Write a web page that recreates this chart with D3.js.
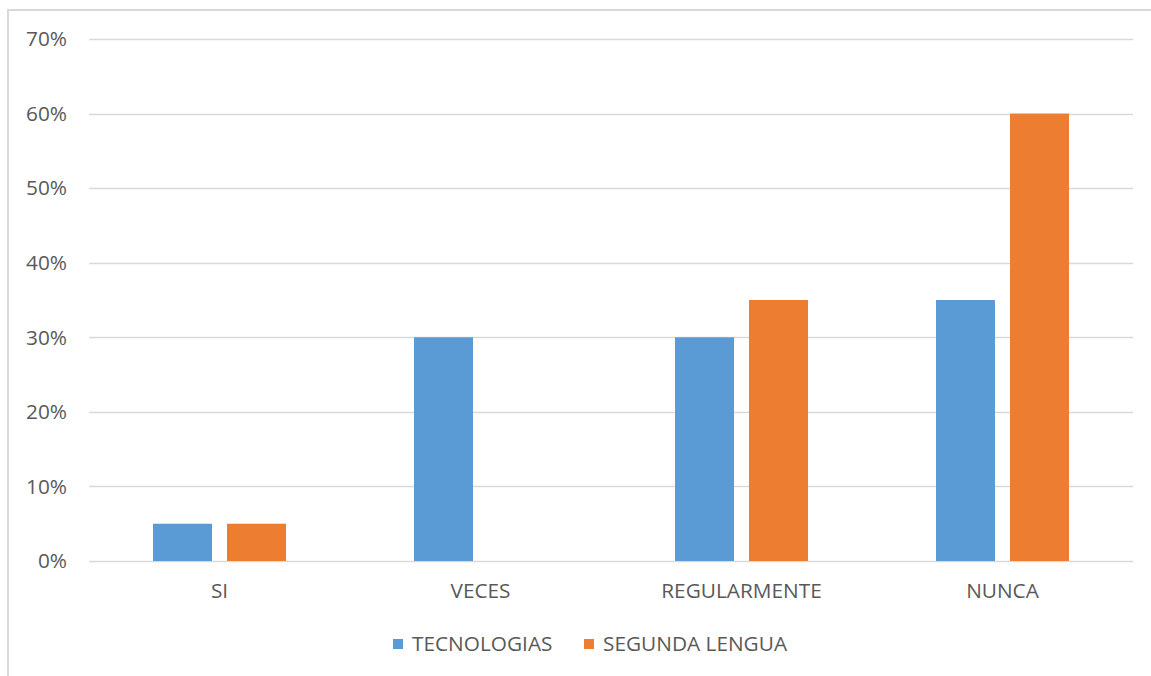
<!DOCTYPE html>
<html>
<head>
<meta charset="utf-8">
<script src="https://cdn.jsdelivr.net/npm/d3@7"></script>
<style>
  body { margin: 0; background: #fff; }
  svg { display: block; }
</style>
</head>
<body>
<div class="svg-container"></div>
<script>
const categories = ["SI", "VECES", "REGULARMENTE", "NUNCA"];
const seriesNames = ["TECNOLOGIAS", "SEGUNDA LENGUA"];
const tecnologias = [0.05, 0.30, 0.30, 0.35];
const segundaLengua = [0.05, 0, 0.35, 0.60];
const yTicks = [0, 0.1, 0.2, 0.3, 0.4, 0.5, 0.6, 0.7];
const colors = ["#5B9BD5", "#ED7D31"];

const width = 1151, height = 676;
const margin = { top: 39, left: 89, right: 18, bottom: 115 };
const font = "'Open Sans', 'Liberation Sans', sans-serif";
const fontSize = 20.8;

const svg = d3.select("div.svg-container")
  .append("svg")
  .attr("width", width)
  .attr("height", height)
  .style("background-color", "#fff");

// chart border
svg.append("rect")
  .attr("x", 8).attr("y", 10)
  .attr("width", width).attr("height", height)
  .attr("fill", "none")
  .attr("stroke", "#d9d9d9")
  .attr("stroke-width", 2);

const x = d3.scaleBand(categories, [margin.left, width - margin.right]);
const y = d3.scaleLinear([0, 0.7], [height - margin.bottom, margin.top]);
const groupW = 133;
const x1 = d3.scaleBand(seriesNames, [0, groupW]).paddingInner(15 / 133 * 2 / (1 + 15 / 133));

const series = seriesNames.map((name, i) => ({
  name,
  color: colors[i],
  values: i === 0 ? tecnologias : segundaLengua
}));

// gridlines
svg.append("g")
  .selectAll("line")
  .data(yTicks)
  .join("line")
  .attr("x1", margin.left)
  .attr("x2", width - margin.right)
  .attr("y1", d => Math.round(y(d)) + 0.5)
  .attr("y2", d => Math.round(y(d)) + 0.5)
  .attr("stroke", "#d9d9d9")
  .attr("stroke-width", 1.3);

// y labels
svg.append("g")
  .attr("font-family", font)
  .attr("font-size", fontSize)
  .attr("fill", "#595959")
  .attr("text-anchor", "end")
  .selectAll("text")
  .data(yTicks)
  .join("text")
  .attr("x", 67)
  .attr("y", d => y(d))
  .attr("dy", "0.35em")
  .text(d3.format(".0%"));

// bars
svg.append("g")
  .selectAll("g")
  .data(series)
  .join("g")
  .attr("fill", d => d.color)
  .selectAll("rect")
  .data(d => d.values.map((v, j) => ({ v, cat: categories[j], name: d.name })))
  .join("rect")
  .attr("x", d => x(d.cat) + (x.bandwidth() - groupW) / 2 + x1(d.name))
  .attr("width", x1.bandwidth())
  .attr("y", d => y(d.v))
  .attr("height", d => y(0) - y(d.v));

// x labels
svg.append("g")
  .attr("font-family", font)
  .attr("font-size", fontSize)
  .attr("fill", "#595959")
  .attr("text-anchor", "middle")
  .selectAll("text")
  .data(categories)
  .join("text")
  .attr("x", d => x(d) + x.bandwidth() / 2)
  .attr("y", 591)
  .attr("dy", "0.35em")
  .text(d => d);

// legend
const legendX = [393, 584];
const legend = svg.append("g")
  .attr("font-family", font)
  .attr("font-size", fontSize)
  .attr("fill", "#595959")
  .selectAll("g")
  .data(series)
  .join("g")
  .attr("transform", (d, i) => `translate(${legendX[i]},644)`);
legend.append("rect")
  .attr("y", -5).attr("width", 10).attr("height", 10)
  .attr("fill", d => d.color);
legend.append("text")
  .attr("x", 19)
  .attr("dy", "0.35em")
  .text(d => d.name);
</script>
</body>
</html>
